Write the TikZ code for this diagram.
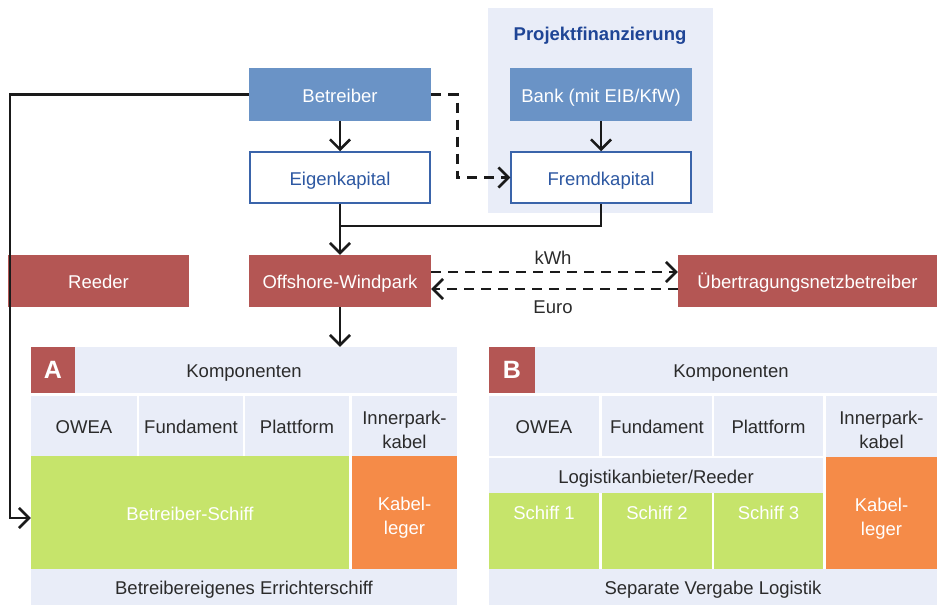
\documentclass[tikz,border=0pt]{standalone}
\usepackage{fontspec}
\setmainfont{Liberation Sans}
\usetikzlibrary{arrows.meta}
\definecolor{blueF}{HTML}{6A93C6}
\definecolor{blueD}{HTML}{3A64AA}
\definecolor{blueT}{HTML}{2D58A2}
\definecolor{titleC}{HTML}{1F4596}
\definecolor{redF}{HTML}{B45654}
\definecolor{lavF}{HTML}{E9EDF8}
\definecolor{grnF}{HTML}{C6E46B}
\definecolor{orgF}{HTML}{F58B48}
\definecolor{txtC}{HTML}{2B2B2B}
\definecolor{lineC}{HTML}{1A1A1A}
\newcommand\myfs{\fontsize{18.5}{24}\selectfont}
\newcommand\twolines[2]{\raisebox{-5.5pt}[\height][\depth]{\begin{tabular}{@{}c@{}}#1\\#2\end{tabular}}}
\begin{document}
\begin{tikzpicture}[x=1pt,y=-1pt,
  box/.style={rectangle, inner sep=0pt, align=center, font=\myfs, text height=15.5pt, text depth=0pt},
  ml/.style={text height=, text depth=},
  sz/.style 2 args={minimum width=#1pt, minimum height=#2pt},
  bluebox/.style={box, fill=blueF, text=white},
  outlbox/.style={box, fill=white, draw=blueD, line width=1.5pt, text=blueT},
  redbox/.style={box, fill=redF, text=white},
  lavbox/.style={box, fill=lavF, text=txtC},
  grnbox/.style={box, fill=grnF, text=white},
  orgbox/.style={box, fill=orgF, text=white},
  plain/.style={inner sep=0pt, align=center, font=\myfs, text height=15.5pt, text depth=0pt},
  letter/.style={redbox, font=\fontsize{25}{25}\selectfont\bfseries, text height=, text depth=},
  conn/.style={line width=2.6pt, draw=lineC},
  arr/.style={conn, -{Straight Barb[length=10pt,width=20pt]}},
  dsh/.style={conn, dash pattern=on 10pt off 7pt},
  dsharr/.style={dsh, -{Straight Barb[length=10pt,width=20pt]}}
]
\useasboundingbox (0,0) rectangle (937,605);

% Projektfinanzierung panel
\node[box, fill=lavF, sz={225}{205}] (proj) at (600.5,110.5) {};
\node[plain, text=titleC, font=\fontsize{18.5}{22}\selectfont\bfseries] (projt) at (600,33) {Projektfinanzierung};
\node[bluebox, sz={182}{53}] (bank) at (601,94.5) {Bank (mit EIB/KfW)};
\node[outlbox, sz={180}{51}] (fremd) at (601,177.5) {Fremdkapital};

% left column
\node[bluebox, sz={182}{53}] (betr) at (340,94.5) {Betreiber};
\node[outlbox, sz={180}{51}] (eigen) at (340,177.5) {Eigenkapital};
\node[redbox, sz={181}{52}] (reeder) at (98.5,281) {Reeder};
\node[redbox, sz={182}{52}] (owp) at (340,281) {Offshore-Windpark};
\node[redbox, sz={259}{52}] (ueb) at (807.5,281) {Übertragungsnetzbetreiber};

% Panel A
\node[lavbox, sz={426}{46}] (kompA) at (244,370) {Komponenten};
\node[letter, sz={44}{46}] (labA) at (53,370) {A};
\node[lavbox, sz={106}{60}] (owA) at (84,426) {OWEA};
\node[lavbox, sz={104}{60}] (fuA) at (191,426) {Fundament};
\node[lavbox, sz={104}{60}] (plA) at (297,426) {Plattform};
\node[lavbox, ml, sz={105}{60}] (ikA) at (404.5,426) {\twolines{Innerpark-}{kabel}};
\node[grnbox, sz={318}{113}] (schiffA) at (190,512.5) {Betreiber-Schiff};
\node[orgbox, ml, sz={105}{113}] (kabA) at (404.5,512.5) {\twolines{Kabel-}{leger}};
\node[lavbox, sz={426}{36}] (botA) at (244,587) {Betreibereigenes Errichterschiff};

% Panel B
\node[lavbox, sz={448}{46}] (kompB) at (713,370) {};
\node[plain, text=txtC] (kompBt) at (731,370) {Komponenten};
\node[letter, sz={46}{46}] (labB) at (512,370) {B};
\node[lavbox, sz={110}{60}] (owB) at (544,426) {OWEA};
\node[lavbox, sz={110}{60}] (fuB) at (657,426) {Fundament};
\node[lavbox, sz={109}{60}] (plB) at (768.5,426) {Plattform};
\node[lavbox, ml, sz={111}{61}] (ikB) at (881.5,426.5) {\twolines{Innerpark-}{kabel}};
\node[lavbox, sz={334}{35}] (logB) at (656,475.5) {Logistikanbieter/Reeder};
\node[grnbox, sz={110}{76}] (s1) at (544,531) {};
\node[grnbox, sz={110}{76}] (s2) at (657,531) {};
\node[grnbox, sz={109}{76}] (s3) at (768.5,531) {};
\node[plain, text=white] (s1t) at (544,512) {Schiff 1};
\node[plain, text=white] (s2t) at (657,512) {Schiff 2};
\node[plain, text=white] (s3t) at (768.5,512) {Schiff 3};
\node[orgbox, ml, sz={111}{112}] (kabB) at (881.5,513) {\twolines{Kabel-}{leger}};
\node[lavbox, sz={448}{36}] (botB) at (713,587) {Separate Vergabe Logistik};

% connectors
\coordinate (j) at (340,226);
\draw[arr] (betr.south) -- (eigen.north);
\draw[arr] (eigen.south) -- (owp.north);
\draw[conn] (fremd.south) |- (j);
\draw[arr] (bank.south) -- (fremd.north);
\draw[dsharr] (betr.east) -- ++(26,0) |- (fremd.west);
\draw[arr] (betr.west) -- ++(-239,0) |- ([yshift=-5.5pt]schiffA.west);
\draw[arr] (owp.south) -- (owp.south |- kompA.north);
\draw[dsharr] ([yshift=9pt]owp.east) -- ([yshift=9pt]ueb.west);
\draw[dsharr] ([yshift=-8pt]ueb.west) -- ([yshift=-8pt]owp.east);
\node[plain, text=txtC] (kwh) at (553,257) {kWh};
\node[plain, text=txtC] (euro) at (553,306) {Euro};
\end{tikzpicture}
\end{document}
